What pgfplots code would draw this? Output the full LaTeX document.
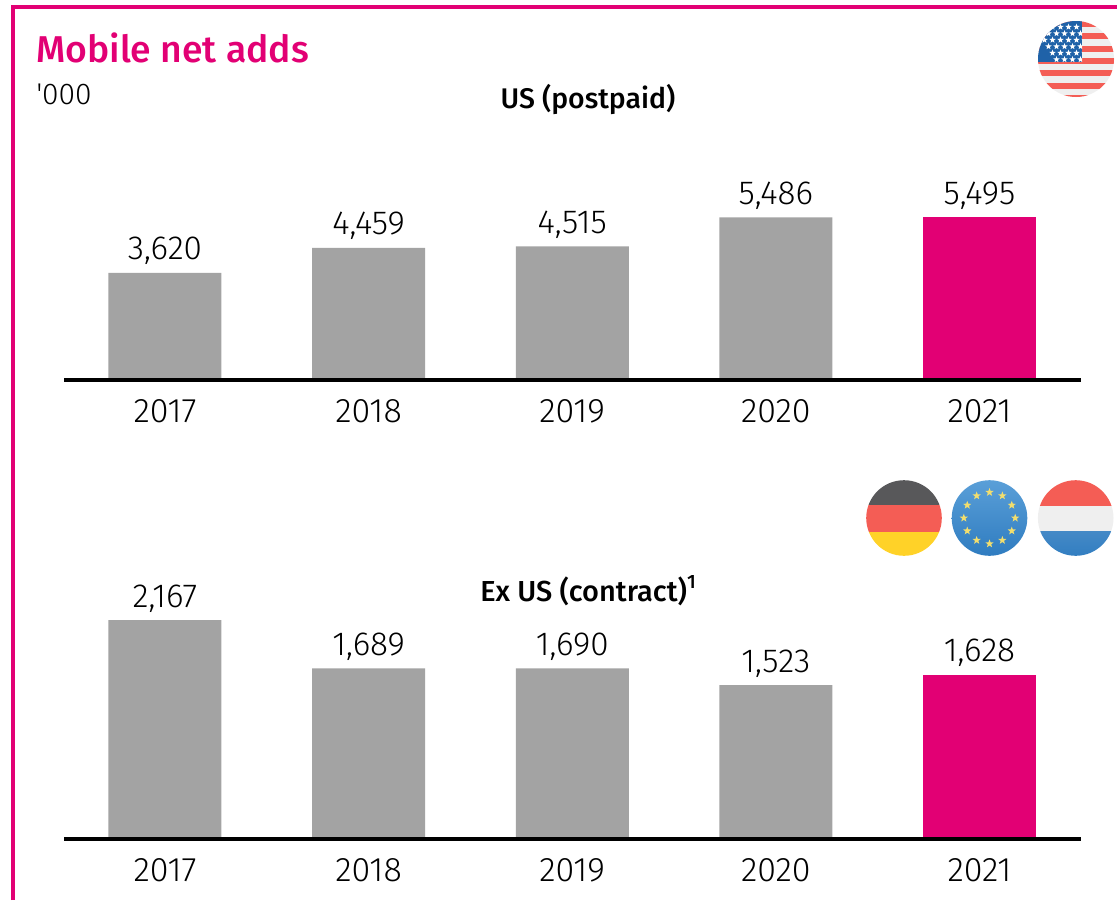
\documentclass[border=0pt]{standalone}
\usepackage{fontspec}
\setmainfont{Fira Sans}[UprightFont=* Light, BoldFont=* Medium]
\newfontfamily\plainf{Fira Sans}[UprightFont=* Light]
\usepackage{pgfplots}
\pgfplotsset{compat=1.18}
\usetikzlibrary{shapes.geometric}
\definecolor{tmag}{HTML}{E20074}
\definecolor{tgray}{HTML}{A3A3A3}
\definecolor{flagred}{HTML}{F45D55}
\definecolor{flagblue}{HTML}{2F7CC0}
\definecolor{flagbluelight}{HTML}{5A9FD8}
\definecolor{flagnavy}{HTML}{1F62A8}
\definecolor{flagdark}{HTML}{58585A}
\definecolor{flagyellow}{HTML}{FFD228}
\definecolor{flagstar}{HTML}{F2DE6E}
\definecolor{flaglight}{HTML}{EFEFEF}
\pgfplotsset{
  mybars/.style={
    scale only axis, width=762.75pt, ybar, bar width=84.75pt, bar shift=0pt,
    xmin=-0.496, xmax=4.4985, ymin=0,
    axis x line*=bottom,
    axis y line=none,
    axis on top,
    axis line style={-,line width=2.8pt,black},
    xtick={0,1,2,3,4}, xticklabels={2017,2018,2019,2020,2021},
    xtick style={draw=none}, major tick length=0pt,
    tick label style={font=\fontsize{25.5}{28}\selectfont},
    xticklabel style={yshift=-11pt},
    nodes near coords,
    every node near coord/.append style={font=\fontsize{25}{28}\selectfont,text=black,yshift=2.5pt},
    /pgf/number format/assume math mode=true,
    /pgf/number format/.cd,1000 sep={,},
    /pgfplots/.cd,
    clip=false,
  }
}
\begin{document}
\begin{tikzpicture}
\begin{scope}[x=0.75pt,y=-0.75pt]
\path[use as bounding box] (0,0) rectangle (1117,900);
% frame
\draw[tmag,line width=3pt] (13,900) -- (13,7) -- (1117,7);
\node[anchor=base west,inner sep=0,text=tmag,font=\fontsize{28}{30}\selectfont\bfseries] at (36,62) {Mobile net adds};
\node[anchor=base west,inner sep=0,font=\fontsize{22.5}{26}\plainf\selectfont] at (36,104) {'000};
\node[anchor=base,inner sep=0,font=\fontsize{21.3}{26}\selectfont\bfseries] at (588,108) {US (postpaid)};
\node[anchor=base,inner sep=0,font=\fontsize{21.7}{26}\selectfont\bfseries] at (588,601) {Ex US (contract)\raisebox{0.42em}{\fontsize{14.5}{15}\selectfont 1}};
% US flag
\begin{scope}
\clip (1076,59) circle (38);
\fill[flaglight] (1030,15) rectangle (1120,105);
\foreach \yy in {21,33.3,45.6,58,70.3,82.6,95}{\fill[flagred] (1030,\yy) rectangle (1120,\yy+6);}
\fill[flagnavy] (1030,15) rectangle (1082,62);
\clip (1030,15) rectangle (1082,62);
\foreach \r in {0,1,2,3,4,5}{\foreach \c in {0,...,5}{
  \node[star,star points=5,star point ratio=2.4,fill=white,inner sep=0,minimum size=5pt] at (1040.5+\c*8+\r*4-4,27+\r*6.5) {};
}}
\end{scope}
% German flag
\begin{scope}
\clip (904,518) circle (37.8);
\fill[flagdark] (860,475) rectangle (950,505);
\fill[flagred] (860,505) rectangle (950,532);
\fill[flagyellow] (860,532) rectangle (950,560);
\end{scope}
% EU flag
\shade[top color=flagbluelight,bottom color=flagblue] (989.5,518) circle (37.8);
\foreach \a in {0,30,...,330}{
  \node[star,star points=5,star point ratio=2.4,fill=flagstar,inner sep=0,minimum size=6.5pt] at ({989.5+25.7*cos(\a)},{518+25.7*sin(\a)}) {};
}
% Dutch/Lux flag
\begin{scope}
\clip (1075.7,518) circle (37.8);
\fill[flagred] (1030,475) rectangle (1120,505.5);
\fill[flaglight] (1030,505.5) rectangle (1120,531.5);
\shade[top color=flagblue!90!white,bottom color=flagblue] (1030,531.5) rectangle (1120,560);
\end{scope}
\end{scope}
% top axis
\begin{axis}[mybars, at={(48pt,-285pt)}, anchor=south west, height=139.5pt, ymax=6279]
\addplot[fill=tgray,draw=none] coordinates {(0,3620)(1,4459)(2,4515)(3,5486)};
\addplot[fill=tmag,draw=none] coordinates {(4,5495)};
\end{axis}
% bottom axis
\begin{axis}[mybars, at={(48pt,-629.25pt)}, anchor=south west, height=180pt, ymax=2376]
\addplot[fill=tgray,draw=none] coordinates {(0,2167)(1,1689)(2,1690)(3,1523)};
\addplot[fill=tmag,draw=none] coordinates {(4,1628)};
\end{axis}
\end{tikzpicture}
\end{document}
